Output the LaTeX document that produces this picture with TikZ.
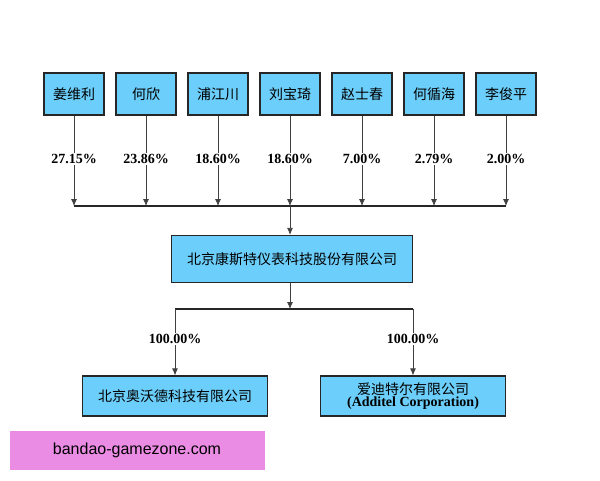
\documentclass[tikz,border=0pt]{standalone}
\usepackage{fontspec}
\setmainfont{Liberation Serif}
\newfontfamily\cjk{Noto Sans CJK SC}
\newfontfamily\wm{Liberation Sans}
\usetikzlibrary{arrows.meta,positioning}
\definecolor{boxblue}{RGB}{108,206,250}
\definecolor{wmpink}{RGB}{234,140,228}
\begin{document}
\begin{tikzpicture}
    [x=1pt,y=-1pt,
    holder/.style={draw=black!85,line width=1.2pt,fill=boxblue,minimum width=60pt,minimum height=42pt,font=\cjk\fontsize{14}{16}\selectfont},
    firm/.style={draw=black!85,line width=1.2pt,fill=boxblue,minimum height=40pt,font=\cjk\fontsize{14}{16}\selectfont,align=center},
    share/.style={fill=white,inner sep=1pt,font=\bfseries\fontsize{14}{16}\selectfont},
    link/.style={draw=black!75,line width=0.8pt,-{Latex[length=7pt,width=6pt]}}]
    \useasboundingbox (0,0) rectangle (600,480);
    % 股东
    \foreach \name/\pct [count=\i] in {姜维利/27.15,何欣/23.86,浦江川/18.60,刘宝琦/18.60,赵士春/7.00,何循海/2.79,李俊平/2.00}{
        \node [holder] (h\i) at ({2+72*\i},94) {\name};
        \coordinate (j\i) at ({2+72*\i},206);
        \draw [link] (h\i) -- (j\i) node [share,pos=0.48] {\pct\%};
    }
    \draw [black!85,line width=1.2pt] (j1) -- (j7);
    % 公司
    \node [firm,minimum width=241pt,minimum height=47pt] (main) at (292,259) {北京康斯特仪表科技股份有限公司};
    \draw [link] (j4) -- (j4 |- main.north);
    \coordinate (top) at (290,309);
    \coordinate (bl) at (175,309);
    \coordinate (br) at (413,309);
    \draw [black!85,line width=1.2pt] (bl) -- (br);
    \draw [link] (top |- main.south) -- (top);
    \node [firm,minimum width=185pt] (sub1) at (175,396) {北京奥沃德科技有限公司};
    \node [firm,minimum width=185pt] (sub2) at (413,396) {爱迪特尔有限公司\\[-4pt]{\rmfamily\bfseries (Additel Corporation)}};
    \draw [link] (bl) -- (sub1) node [share,pos=0.45] {100.00\%};
    \draw [link] (br) -- (sub2) node [share,pos=0.45] {100.00\%};
    % 水印
    \node [fill=wmpink,minimum width=255pt,minimum height=39pt,font=\wm\fontsize{16}{18}\selectfont] (mark) at (137,450) {bandao-gamezone.com};
\end{tikzpicture}
\end{document}
